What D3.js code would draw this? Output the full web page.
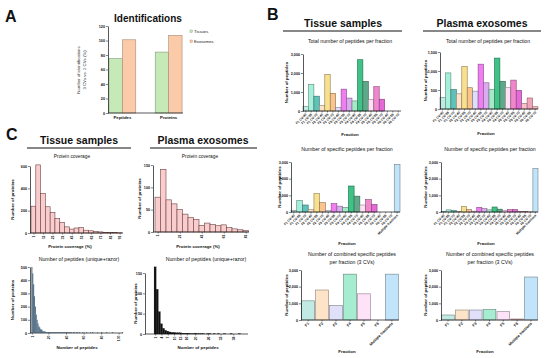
<!DOCTYPE html>
<html><head><meta charset="utf-8">
<script src="https://cdn.jsdelivr.net/npm/d3@7"></script>
<style>body{margin:0;background:#fff}svg{display:block}</style>
</head><body><svg id="fig" width="550" height="358"></svg>
<script>
// ---------------- DATA ----------------
const idCategories = ["Peptides", "Proteins"];
const idSeries = ["Tissues", "Exosomes"];
const idTissues = [75, 84];
const idExosomes = [101, 107];
const idTicks = [0, 20, 40, 60, 80, 100, 120];

const fractionLabels = ["F1 CV-40","F1 CV-55","F1 CV-70","F2 CV-40","F2 CV-55","F2 CV-70",
  "F3 CV-40","F3 CV-55","F3 CV-70","F4 CV-40","F4 CV-55","F4 CV-70",
  "F5 CV-40","F5 CV-55","F5 CV-70","F6 CV-40","F6 CV-55","F6 CV-70"];
const specificLabels = fractionLabels.concat(["Multiple fractions"]);
const fractionColors = ["#c2eae4","#a4f0da","#5fc2b8","#fde3c8","#f8e08e","#f9c48e",
  "#dedefa","#f07ef0","#dcaaf0","#a6e8c8","#3ec286","#5ea98a",
  "#fde2f4","#f086cc","#e46ad8","#f8c2c8","#f2a4b8","#f6b8b8"];
const specificColors = fractionColors.concat(["#c2e4fa"]);

const tissueTotal = [250,1400,780,300,1930,930,180,1150,680,530,2700,1560,600,1280,620,0,0,0];
const exoTotal = [300,950,510,400,1120,560,470,1180,690,520,1340,730,560,760,490,150,290,60];
const tissueSpecific = [100,700,420,150,1100,560,80,500,350,280,1560,950,420,750,450,0,0,0,2850];
const exoSpecific = [30,130,80,40,330,150,50,280,200,130,300,170,80,150,140,30,20,10,2600];

const combinedLabels = ["F1","F2","F3","F4","F5","F6","Multiple fractions"];
const combinedColors = ["#c2eae4","#fde3c8","#e0e0fa","#a6ecd0","#fde2f8","#f8c2c8","#c2e4fa"];
const tissueCombined = [1150,1800,870,2750,1570,0,2750];
const exoCombined = [300,600,600,620,500,60,2580];

const tissueTotalTicks = [0,1000,2000,3000];
const exoTotalTicks = [0,500,1000,1500];
const specificTicks = [0,1000,2000,3000];

const tissueCoverage = [240,610,355,235,185,130,95,55,35,45,50,25,20,15,10,5,5,3,2];
const exoCoverage = [78,140,72,63,50,40,33,28,15,20,17,14,16,10,7,5,3];
const tissueCovTicks = [2.5,12.5,22.5,32.5,42.5,52.5,62.5,72.5,82.5,92.5];
const tissueCovTickLabels = ["1","11","21","31","41","51","61","71","81","91"];
const exoCovTicks = [2.5,22.5,42.5,62.5,82.5];
const exoCovTickLabels = ["1","21","41","61","81"];
const tissueCovYTicks = [0,200,400,600];
const exoCovYTicks = [0,50,100,150];

const tissuePeptides = [500,450,370,280,200,140,100,72,52,40,30,24,19,15,12,10,8,7,6,5,
  4,4,3,3,3,2,2,2,2,2,1,2,1,1,1,1,1,3,1,1,1,1,1,1,0,1,1,0,1,1,
  0,1,0,1,0,1,0,0,1,0,1,0,0,1,0,0,0,1,0,0,1,0,0,0,0,1,0,0,0,0,
  1,0,0,0,0,0,1,0,0,0,0,0,0,1,0,0,0,0,0,0,0,0,0,0,1];
const exoPeptides = [165,110,55,25,14,9,7,5,4,4,3,3,3,2,2,2,2,1,1,2,1,1,1,1,0,1,1,0,1,0,1,0,0,1,0,0,1,0,0,0,1];
const tissuePepTicks = [1,20,40,60,80,100];
const exoPepTicks = [1,4,7,10,13,16,20,26,32,38];
const tissuePepYTicks = [0,100,200,300,400,500];
const exoPepYTicks = [0,50,100,150];

// ---------------- DRAWING ----------------
const FONT = '"Liberation Sans", Arial, Helvetica, sans-serif';
const svg = d3.select("#fig").attr("font-family", FONT);

function txt(x, y, s, fs, o = {}) {
  const t = svg.append("text").attr("x", x).attr("y", y).text(s)
    .attr("font-size", fs).attr("font-family", FONT)
    .attr("text-anchor", o.anchor || "middle")
    .attr("font-weight", o.bold ? "bold" : "normal")
    .attr("fill", o.fill || "#111");
  if (o.rot) t.attr("transform", `rotate(${o.rot},${x},${y})`);
  return t;
}
function styleAxis(a, fs) {
  a.attr("font-size", null).attr("font-family", null);
  a.select(".domain").attr("stroke", "#111").attr("stroke-width", 0.7);
  a.selectAll(".tick line").attr("stroke", "#111").attr("stroke-width", 0.5);
  a.selectAll(".tick text").attr("font-size", fs).attr("font-weight", "bold")
    .attr("fill", "#111").attr("font-family", FONT);
}
function yAxis(y, x0, ticks, fs, fmt) {
  const ax = d3.axisLeft(y).tickValues(ticks).tickSize(2).tickSizeOuter(0).tickPadding(1);
  if (fmt) ax.tickFormat(fmt);
  const a = svg.append("g").attr("transform", `translate(${x0},0)`).call(ax);
  styleAxis(a, fs);
  return a;
}

// Panel letters and headings
txt(5, 22, "A", 16, {anchor: "start", bold: true});
txt(267, 20, "B", 16, {anchor: "start", bold: true});
txt(6, 140, "C", 16, {anchor: "start", bold: true});

function heading(cx, y, s, lx0, lx1, ly) {
  txt(cx, y, s, 10.5, {bold: true});
  svg.append("line").attr("x1", lx0).attr("x2", lx1).attr("y1", ly).attr("y2", ly)
    .attr("stroke", "#111").attr("stroke-width", 1);
}
heading(343, 27, "Tissue samples", 283, 402, 31);
heading(482, 27, "Plasma exosomes", 423, 541, 31);
heading(79, 144, "Tissue samples", 27, 131, 148);
heading(203, 144, "Plasma exosomes", 150, 257, 148);

// ---------- Panel A ----------
{
  txt(148, 22, "Identifications", 10, {bold: true});
  const x = d3.scaleBand().domain(idCategories).range([108, 183]).paddingInner(0.42).paddingOuter(0.02);
  const xs = d3.scaleBand().domain(idSeries).range([0, x.bandwidth()]);
  const y = d3.scaleLinear().domain([0, 120]).range([113, 26]);
  const colors = {Tissues: "#c6e9b8", Exosomes: "#fbcaa8"};
  const strokes = {Tissues: "#7f9a78", Exosomes: "#a88a76"};
  const rows = [];
  idCategories.forEach((c, i) => {
    rows.push({c, s: "Tissues", v: idTissues[i]});
    rows.push({c, s: "Exosomes", v: idExosomes[i]});
  });
  svg.append("g").selectAll("rect").data(rows).join("rect")
    .attr("x", d => x(d.c) + xs(d.s)).attr("width", xs.bandwidth())
    .attr("y", d => y(d.v)).attr("height", d => y(0) - y(d.v))
    .attr("fill", d => colors[d.s]).attr("stroke", d => strokes[d.s]).attr("stroke-width", 0.6);
  yAxis(y, 108, idTicks, 3.8);
  const xa = svg.append("g").attr("transform", "translate(0,113)")
    .call(d3.axisBottom(x).tickSize(0).tickSizeOuter(0).tickPadding(3));
  styleAxis(xa, 4.3);
  xa.select(".domain").attr("d", "M108,0H183");
  txt(80, 70, "Number of identifications", 4.3, {rot: -90, fill: "#333"});
  txt(86, 70, "3 CVs vs. 2 CVs (%)", 4.3, {rot: -90, fill: "#333"});
  idSeries.forEach((s, i) => {
    svg.append("rect").attr("x", 190).attr("y", 30 + i * 10).attr("width", 2.4).attr("height", 2.4)
      .attr("fill", colors[s]).attr("stroke", strokes[s]).attr("stroke-width", 0.4);
    txt(194, 32.6 + i * 10, s, 4.2, {anchor: "start", fill: "#222"});
  });
}

// ---------- Panel B bar charts ----------
function barPanel(o) {
  const x = d3.scaleBand().domain(o.cats).range([o.x0, o.x1]).paddingInner(o.pad || 0).paddingOuter(o.padOut || 0);
  const y = d3.scaleLinear().domain([0, o.max]).range([o.y0, o.yTop]);
  svg.append("g").selectAll("rect").data(o.vals).join("rect")
    .attr("x", (d, i) => x(o.cats[i])).attr("width", x.bandwidth())
    .attr("y", d => y(d)).attr("height", d => o.y0 - y(d))
    .attr("fill", (d, i) => o.colors[i])
    .attr("stroke", (d, i) => d3.color(o.colors[i]).darker(1.6).formatHex())
    .attr("stroke-width", 0.6);
  yAxis(y, o.x0, o.ticks, 3.7);
  const xa = svg.append("g").attr("transform", `translate(0,${o.y0})`)
    .call(d3.axisBottom(x).tickSize(1.5).tickSizeOuter(0).tickPadding(1));
  styleAxis(xa, o.labFs || 3.3);
  xa.select(".domain").attr("d", `M${o.x0},0H${o.x1}`);
  xa.selectAll(".tick text").attr("y", 0).attr("dy", "0.3em")
    .attr("transform", "translate(0.5,3) rotate(-45)").style("text-anchor", "end");
  o.title.forEach((t, i) => txt(o.tx, o.ty + i * 8, t, 5.2, {fill: "#111"}));
  txt(o.ylx, (o.y0 + o.yTop) / 2, "Number of peptides", 4.4, {rot: -90, bold: true});
  txt(o.fx, o.fy, "Fraction", 4.4, {bold: true});
}

barPanel({cats: fractionLabels, vals: tissueTotal, colors: fractionColors, x0: 303, x1: 401,
  y0: 111, yTop: 54, max: 3000, ticks: tissueTotalTicks,
  title: ["Total number of peptides per fraction"], tx: 350, ty: 43, ylx: 288, fx: 350, fy: 136});
barPanel({cats: fractionLabels, vals: exoTotal, colors: fractionColors, x0: 440, x1: 538,
  y0: 109, yTop: 52, max: 1500, ticks: exoTotalTicks,
  title: ["Total number of peptides per fraction"], tx: 488, ty: 43, ylx: 427, fx: 486, fy: 135});
barPanel({cats: specificLabels, vals: tissueSpecific, colors: specificColors, x0: 291, x1: 400,
  y0: 212, yTop: 162, max: 3000, ticks: specificTicks,
  title: ["Number of specific peptides per fraction"], tx: 347, ty: 151, ylx: 281, fx: 347, fy: 245});
barPanel({cats: specificLabels, vals: exoSpecific, colors: specificColors, x0: 441, x1: 538,
  y0: 212, yTop: 162, max: 3000, ticks: specificTicks,
  title: ["Number of specific peptides per fraction"], tx: 490, ty: 151, ylx: 427, fx: 486, fy: 245});
barPanel({cats: combinedLabels, vals: tissueCombined, colors: combinedColors, x0: 301, x1: 399,
  y0: 320, yTop: 270, max: 3000, ticks: specificTicks, pad: 0.08, padOut: 0.05, labFs: 3.8,
  title: ["Number of combined specific peptides", "per fraction (3 CVs)"], tx: 352, ty: 256,
  ylx: 288, fx: 347, fy: 353});
barPanel({cats: combinedLabels, vals: exoCombined, colors: combinedColors, x0: 441, x1: 538,
  y0: 320, yTop: 270, max: 3000, ticks: specificTicks, pad: 0.08, padOut: 0.05, labFs: 3.8,
  title: ["Number of combined specific peptides", "per fraction (3 CVs)"], tx: 490, ty: 256,
  ylx: 427, fx: 485, fy: 353});

// ---------- Panel C histograms ----------
function histPanel(o) {
  const x = d3.scaleLinear().domain(o.xDomain).range(o.xRange);
  const y = d3.scaleLinear().domain([0, o.max]).range([o.y0, o.yTop]);
  svg.append("g").selectAll("rect").data(o.vals).join("rect")
    .attr("x", (d, i) => x(o.binStart(i)))
    .attr("width", (d, i) => x(o.binStart(i) + o.binW) - x(o.binStart(i)))
    .attr("y", d => y(d)).attr("height", d => o.y0 - y(d))
    .attr("fill", o.fill).attr("stroke", o.stroke).attr("stroke-width", o.sw);
  yAxis(y, o.ax, o.yTicks, 3.7);
  const ax = d3.axisBottom(x).tickValues(o.xTicks).tickSize(1.5).tickSizeOuter(0).tickPadding(1);
  if (o.xTickLabels) ax.tickFormat((d, i) => o.xTickLabels[i]);
  const xa = svg.append("g").attr("transform", `translate(0,${o.y0})`).call(ax);
  styleAxis(xa, 3.4);
  xa.select(".domain").attr("d", `M${o.ax},0H${o.axEnd}`);
  xa.selectAll(".tick text").attr("y", 0).attr("dy", "0.35em")
    .attr("transform", "translate(0,2.5) rotate(-90)").style("text-anchor", "end");
  txt(o.tx, o.ty, o.title, o.tfs, {fill: "#111"});
  txt(o.ylx, (o.y0 + o.yTop) / 2, "Number of proteins", 4.4, {rot: -90, bold: true});
  txt(o.xlx, o.xly, o.xlab, 4.4, {bold: true});
}

histPanel({vals: tissueCoverage, xDomain: [0, 95], xRange: [31, 122], binW: 5, binStart: i => i * 5,
  max: 600, y0: 233, yTop: 166, yTicks: tissueCovYTicks, xTicks: tissueCovTicks, xTickLabels: tissueCovTickLabels,
  fill: "#f9cdcd", stroke: "#6e4242", sw: 0.6, ax: 30, axEnd: 123,
  title: "Protein coverage", tfs: 4.8, tx: 72, ty: 158, ylx: 14, xlx: 70, xly: 248, xlab: "Protein coverage (%)"});
histPanel({vals: exoCoverage, xDomain: [0, 85], xRange: [155, 248.5], binW: 5, binStart: i => i * 5,
  max: 150, y0: 232, yTop: 165, yTicks: exoCovYTicks, xTicks: exoCovTicks, xTickLabels: exoCovTickLabels,
  fill: "#f9cdcd", stroke: "#6e4242", sw: 0.6, ax: 153, axEnd: 249,
  title: "Protein coverage", tfs: 4.8, tx: 200, ty: 158, ylx: 141, xlx: 198, xly: 248, xlab: "Protein coverage (%)"});
histPanel({vals: tissuePeptides, xDomain: [0, 105], xRange: [31, 123], binW: 1, binStart: i => i + 0.5,
  max: 500, y0: 333, yTop: 267, yTicks: tissuePepYTicks, xTicks: tissuePepTicks,
  fill: "#3a556d", stroke: "#7f9cb3", sw: 0.15, ax: 30, axEnd: 123,
  title: "Number of peptides (unique+razor)", tfs: 5.2, tx: 79, ty: 261, ylx: 14, xlx: 77, xly: 349, xlab: "Number of peptides"});
histPanel({vals: exoPeptides, xDomain: [0, 45], xRange: [153, 248], binW: 1, binStart: i => i + 0.5,
  max: 150, y0: 334, yTop: 273, yTicks: exoPepYTicks, xTicks: exoPepTicks,
  fill: "#111", stroke: "#111", sw: 0.2, ax: 145, axEnd: 248,
  title: "Number of peptides (unique+razor)", tfs: 5.2, tx: 206, ty: 261, ylx: 137, xlx: 198, xly: 349, xlab: "Number of peptides"});
</script>
</body></html>
